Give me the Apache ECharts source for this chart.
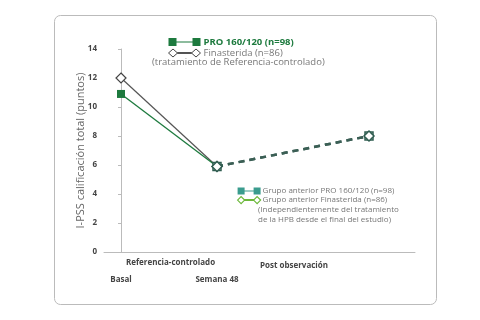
<!DOCTYPE html>
<html>
<head>
<meta charset="utf-8">
<script src="https://cdn.jsdelivr.net/npm/echarts@6/dist/echarts.min.js"></script>
<style>
  html, body { margin: 0; padding: 0; background: #fff; }
  #chart { width: 480px; height: 320px; }
</style>
</head>
<body>
<div id="chart"></div>
<script>
// semanas (posicion en el eje x)
var weeks = [0, 48, 124];
var xLabels = ['Basal', 'Semana 48'];
var yTicks = [0, 2, 4, 6, 8, 10, 12, 14];

// periodo referencia-controlado
var proRef = [10.9, 5.9];
var finRef = [12.0, 5.9];
// post observacion
var proPost = [5.9, 8.0];
var finPost = [5.9, 8.0];

var names = [
    'PRO 160/120 (n=98)',
    'Finasterida (n=86)',
    'Grupo anterior PRO 160/120 (n=98)',
    'Grupo anterior Finasterida (n=86)'
];

var font = 'Open Sans';

// iconos de leyenda: marcador - linea - marcador
var iconSq1 = 'path://M0,0h8v8h-8z M8,3.4h16v1.2h-16z M24,0h8v8h-8z';
var iconDm1 = 'path://M0,4L4.5,0L9,4L4.5,8Z M9,3.6h14v0.8h-14z M23,4L27.5,0L32,4L27.5,8Z';
var iconSq2 = 'path://M0,0h7v7h-7z M7,2.9h9v1.2h-9z M16,0h7v7h-7z';
var iconDm2 = 'path://M0,3.5L3.5,0L7,3.5L3.5,7Z M7,3.1h9v0.8h-9z M16,3.5L19.5,0L23,3.5L19.5,7Z';

function pairs(xs, ys) {
    return ys.map(function (y, i) { return [xs[i], y]; });
}

var chart = echarts.init(document.getElementById('chart'));

var option = {
    animation: false,
    textStyle: { fontFamily: font },
    grid: { left: 104, right: 65, top: 49, bottom: 68 },
    legend: [
        {
            left: 163, top: 32, orient: 'vertical',
            itemWidth: 32, itemHeight: 8, itemGap: 1,
            textStyle: { fontSize: 9.5, color: '#777', padding: [0, 0, 0, -2] },
            data: [
                { name: names[0], icon: iconSq1, textStyle: { fontWeight: 'bold', color: '#1d7a3e' } },
                {
                    name: names[1], icon: iconDm1,
                    itemStyle: { color: '#fff', borderColor: '#444', borderWidth: 1 }
                }
            ]
        },
        {
            left: 232, top: 182, orient: 'vertical',
            itemWidth: 23, itemHeight: 7, itemGap: 1,
            textStyle: { fontSize: 8, color: '#777', padding: [0, 0, 0, -3] },
            data: [
                {
                    name: names[2], icon: iconSq2,
                    itemStyle: { color: '#3a9c8e', borderColor: '#3a9c8e', borderWidth: 0 }
                },
                {
                    name: names[3], icon: iconDm2,
                    itemStyle: { color: '#fff', borderColor: '#6cb83a', borderWidth: 1.2 }
                }
            ]
        }
    ],
    xAxis: {
        type: 'value', min: -8.5, max: 147,
        splitLine: { show: false },
        axisLine: { lineStyle: { color: '#bbb', width: 1 } },
        axisTick: { show: false },
        axisLabel: {
            customValues: [weeks[0], weeks[1]],
            margin: 24,
            fontSize: 8, fontWeight: 'bold', color: '#444',
            formatter: function (v) { return xLabels[weeks.indexOf(v)]; }
        }
    },
    yAxis: {
        type: 'value', min: 0, max: 14, interval: 2,
        name: 'I-PSS calificación total (puntos)',
        nameLocation: 'middle', nameGap: 18, nameMoveOverlap: false,
        nameTextStyle: { fontSize: 11, color: '#666' },
        splitLine: { show: false },
        axisLine: { show: true, lineStyle: { color: '#bbb', width: 1 } },
        axisTick: { show: true, length: 3, lineStyle: { color: '#bbb' } },
        axisLabel: {
            fontSize: 8, fontWeight: 'bold', color: '#444', margin: 7,
            formatter: function (v) { return yTicks.indexOf(v) >= 0 ? v : ''; }
        }
    },
    graphic: [
        {
            type: 'rect', left: 52, top: 13, z: -1,
            shape: { width: 382, height: 289, r: 6 },
            style: { fill: 'none', stroke: '#bbb', lineWidth: 1 }
        },
        {
            type: 'text', left: 152, top: 57,
            style: { text: '(tratamiento de Referencia-controlado)', fontSize: 9.5, fill: '#777', fontFamily: font }
        },
        {
            type: 'text', left: 258, top: 205,
            style: {
                text: '(Independientemente del tratamiento\nde la HPB desde el final del estudio)',
                fontSize: 8, lineHeight: 10, fill: '#777', fontFamily: font
            }
        },
        {
            type: 'text', left: 126, top: 259,
            style: { text: 'Referencia-controlado', fontSize: 8, fontWeight: 'bold', fill: '#444', fontFamily: font }
        },
        {
            type: 'text', left: 260, top: 262,
            style: { text: 'Post observación', fontSize: 8, fontWeight: 'bold', fill: '#444', fontFamily: font }
        }
    ],
    series: [
        {
            name: names[0], type: 'line', z: 3,
            data: pairs(weeks, proRef),
            symbol: 'rect', symbolSize: 8,
            itemStyle: { color: '#1d7a3e' },
            lineStyle: { color: '#1d7a3e', width: 1.3 }
        },
        {
            name: names[1], type: 'line', z: 2,
            data: pairs(weeks, finRef),
            symbol: 'diamond', symbolSize: 10,
            itemStyle: { color: '#fff', borderColor: '#444', borderWidth: 1.2 },
            lineStyle: { color: '#555', width: 1.2 }
        },
        {
            name: names[2], type: 'line', z: 4,
            data: pairs(weeks.slice(1), proPost),
            symbol: 'rect', symbolSize: 8,
            itemStyle: { color: '#fff', borderColor: '#2f5d50', borderWidth: 1.5 },
            lineStyle: { color: '#3b5f55', width: 2.5, type: [6, 5] }
        },
        {
            name: names[3], type: 'line', z: 4,
            data: pairs(weeks.slice(1), finPost),
            symbol: 'diamond', symbolSize: 10,
            itemStyle: { color: '#fff', borderColor: '#2f5d50', borderWidth: 1.5 },
            lineStyle: { color: '#3b5f55', width: 2.5, type: [6, 5] }
        }
    ]
};

chart.setOption(option);
</script>
</body>
</html>
